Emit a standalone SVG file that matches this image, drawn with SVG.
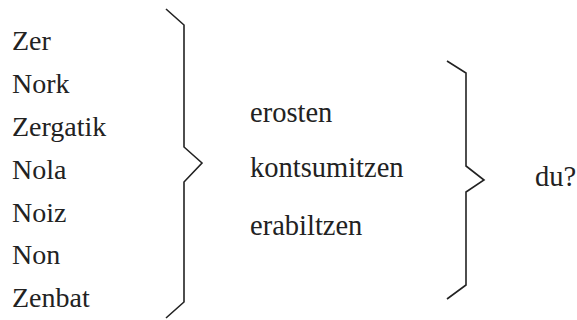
<svg xmlns="http://www.w3.org/2000/svg" width="577" height="320" viewBox="0 0 577 320">
<style>
text{font-family:"Liberation Serif","Times New Roman",serif;font-size:28px;fill:#222}
.m{font-size:28.5px}
.br{fill:none;stroke:#222;stroke-width:1.6;stroke-linejoin:miter}
</style>
<rect width="577" height="320" fill="#fff"/>
<g id="left">
<text x="12" y="50">Zer</text>
<text x="12" y="93">Nork</text>
<text x="12" y="136">Zergatik</text>
<text x="12" y="179">Nola</text>
<text x="12" y="222">Noiz</text>
<text x="12" y="264">Non</text>
<text x="12" y="307">Zenbat</text>
</g>
<g id="middle">
<text class="m" x="250" y="122">erosten</text>
<text class="m" x="250" y="177">kontsumitzen</text>
<text class="m" x="250" y="235">erabiltzen</text>
</g>
<g id="right">
<text class="m" x="535" y="186">du?</text>
</g>
<g id="connectors">
<path class="br" d="M166,9 L184,25 L184,147 L202,163 L184,182 L184,302 L166,318"/>
<path class="br" d="M447,61 L466,73 L466,166 L484,180 L466,192 L466,285 L447,299"/>
</g>
</svg>
